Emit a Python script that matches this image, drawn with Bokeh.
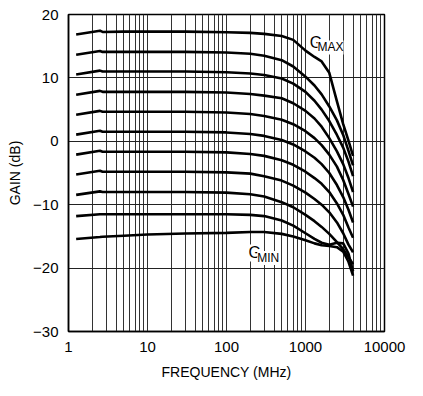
from bokeh.plotting import figure
from bokeh.models import Label, FixedTicker, Range1d
from bokeh.embed import file_html
from bokeh.resources import INLINE

# frequency points (MHz)
freq = [1.25, 2.5, 2.7, 5, 10, 30, 100, 200, 300, 500, 700, 1000, 1300, 1600, 2000, 2500, 3000, 3500, 4000]

# gain (dB) for each gain setting, top (GMAX) to bottom (GMIN)
gain_1 = [16.85, 17.45, 17.25, 17.3, 17.3, 17.3, 17.2, 17.1, 16.95, 16.6, 16.0, 14.3, 13.3, 12.6, 10.8, 6.3, 2.7, 0.1, -2.3]
gain_2 = [13.65, 14.25, 14.1, 14.1, 14.1, 14.1, 14.0, 13.8, 13.5, 12.8, 11.8, 10.2, 8.8, 7.4, 5.5, 3.3, 1.0, -1.5, -3.8]
gain_3 = [10.55, 11.15, 11.0, 11.0, 11.0, 11.0, 10.9, 10.7, 10.45, 9.9, 9.1, 7.8, 6.4, 5.0, 3.2, 1.0, -1.0, -3.2, -5.5]
gain_4 = [7.35, 7.95, 7.8, 7.8, 7.8, 7.8, 7.7, 7.45, 7.2, 6.8, 6.0, 4.8, 3.6, 2.3, 0.5, -1.6, -3.6, -5.8, -8.0]
gain_5 = [4.2, 4.8, 4.65, 4.65, 4.65, 4.65, 4.55, 4.3, 4.0, 3.4, 2.7, 1.6, 0.5, -0.6, -2.1, -4.0, -6.1, -8.3, -10.3]
gain_6 = [1.05, 1.65, 1.5, 1.5, 1.5, 1.5, 1.4, 1.15, 0.85, 0.2, -0.5, -1.6, -2.6, -3.6, -5.0, -6.9, -8.8, -10.8, -12.8]
gain_7 = [-2.1, -1.5, -1.65, -1.65, -1.65, -1.65, -1.75, -2.0, -2.3, -3.0, -3.7, -4.8, -5.8, -6.7, -8.0, -9.8, -11.6, -13.6, -15.2]
gain_8 = [-5.25, -4.65, -4.8, -4.8, -4.8, -4.8, -4.9, -5.1, -5.5, -6.2, -7.0, -8.1, -9.1, -10.0, -11.2, -12.8, -14.5, -16.3, -17.5]
gain_9 = [-8.45, -7.9, -8.0, -8.0, -8.0, -8.0, -8.1, -8.35, -8.7, -9.6, -10.4, -11.6, -12.6, -13.5, -14.6, -15.9, -17.0, -18.3, -19.4]
gain_10 = [-11.8, -11.5, -11.5, -11.5, -11.5, -11.5, -11.5, -11.6, -11.8, -12.5, -13.3, -14.5, -15.4, -16.0, -16.3, -16.0, -16.1, -17.7, -20.5]
gain_11 = [-15.4, -15.1, -15.05, -14.9, -14.7, -14.55, -14.45, -14.3, -14.3, -14.6, -15.0, -15.6, -16.1, -16.4, -16.5, -16.7, -17.4, -19.0, -21.2]

curves = [gain_1, gain_2, gain_3, gain_4, gain_5, gain_6, gain_7, gain_8, gain_9, gain_10, gain_11]

x_ticks = [1, 10, 100, 1000, 10000]
x_tick_labels = ["1", "10", "100", "1000", "10000"]
y_ticks = [-30, -20, -10, 0, 10, 20]
y_tick_labels = ["\u221230", "\u221220", "\u221210", "0", "10", "20"]

FONT = "Liberation Sans"

p = figure(x_axis_type="log", x_range=Range1d(1, 10000), y_range=Range1d(-30, 20),
           frame_width=316, frame_height=317,
           min_border_left=68, min_border_right=31, min_border_top=14, min_border_bottom=52,
           output_backend="svg", toolbar_location=None,
           background_fill_color="white", border_fill_color="white")

minor = [m * d for d in [1, 10, 100, 1000] for m in range(2, 10)]
xt = FixedTicker(ticks=x_ticks, minor_ticks=minor)
yt = FixedTicker(ticks=y_ticks)
p.xaxis.ticker = xt
p.yaxis.ticker = yt
p.xgrid.ticker = xt
p.ygrid.ticker = yt

p.xgrid.grid_line_color = "#333333"
p.xgrid.grid_line_width = 1
p.xgrid.minor_grid_line_color = "#333333"
p.xgrid.minor_grid_line_width = 1
p.ygrid.grid_line_color = "#222222"
p.ygrid.grid_line_width = 1

p.outline_line_color = "black"
p.outline_line_width = 1.5

for ax in (p.xaxis, p.yaxis):
    ax.axis_line_color = "black"
    ax.axis_line_width = 1.5
    ax.major_tick_in = 0
    ax.major_tick_out = 0
    ax.minor_tick_in = 0
    ax.minor_tick_out = 0
    ax.major_label_text_font = FONT
    ax.major_label_text_font_size = "15px"
    ax.major_label_text_color = "black"
    ax.axis_label_text_font = FONT
    ax.axis_label_text_font_size = "14px"
    ax.axis_label_text_font_style = "normal"
    ax.axis_label_text_color = "black"

p.xaxis.major_label_overrides = dict(zip(x_ticks, x_tick_labels))
p.yaxis.major_label_overrides = dict(zip(y_ticks, y_tick_labels))
p.xaxis.major_label_standoff = 10
p.yaxis.major_label_standoff = 10
p.xaxis.axis_label = "FREQUENCY (MHz)"
p.yaxis.axis_label = "GAIN (dB)"
p.xaxis.axis_label_standoff = 9
p.yaxis.axis_label_standoff = 7

for g in curves:
    p.line(freq, g, line_color="black", line_width=2.6, line_join="round")

# annotations
p.add_layout(Label(x=1130, y=15.6, text="G", text_font=FONT, text_font_size="16px",
                   text_color="black", background_fill_color="white", text_baseline="alphabetic"))
p.add_layout(Label(x=1420, y=14.8, text="MAX", text_font=FONT, text_font_size="12px",
                   text_color="black", background_fill_color="white", text_baseline="alphabetic"))
p.add_layout(Label(x=190, y=-17.6, text="G", text_font=FONT, text_font_size="16px",
                   text_color="black", background_fill_color="white", text_baseline="alphabetic"))
p.add_layout(Label(x=245, y=-18.4, text="MIN", text_font=FONT, text_font_size="12px",
                   text_color="black", background_fill_color="white", text_baseline="alphabetic"))

open("out.html", "w").write(file_html(p, INLINE))
